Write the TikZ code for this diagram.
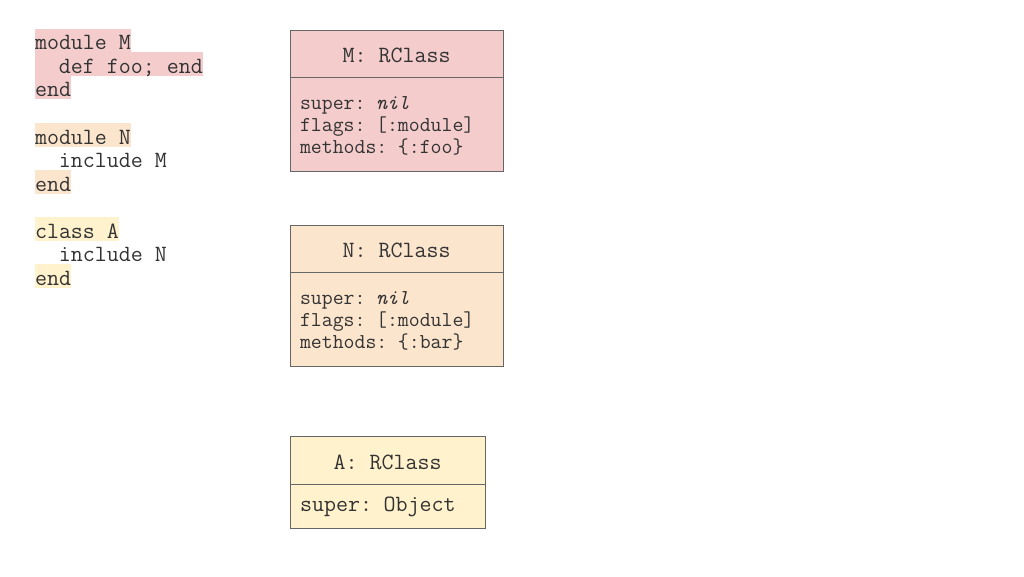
\documentclass[tikz,border=0pt]{standalone}
\usepackage{fontspec}
\usetikzlibrary{positioning}
\definecolor{mpink}{HTML}{F4CCCC}
\definecolor{npeach}{HTML}{FCE5CD}
\definecolor{ayellow}{HTML}{FFF2CC}
\definecolor{edgegray}{HTML}{666666}
\definecolor{ink}{HTML}{333333}
\begin{document}
\begin{tikzpicture}[x=1pt, y=-1pt,
  every node/.style={font=\ttfamily\fontsize{23.3}{22}\selectfont, text=ink, outer sep=0pt},
  code/.style={anchor=west, inner sep=0pt, text height=19pt, text depth=1pt, minimum height=23.5pt},
  head/.style={draw=edgegray, line width=1pt, minimum height=47pt, text height=18pt, text depth=0pt},
  body/.style={draw=edgegray, line width=1pt, align=left, inner xsep=10pt, font=\ttfamily\fontsize{21.2}{22}\selectfont,
    execute at begin node=\rule{0pt}{17pt}}]
  \useasboundingbox (0,0) rectangle (1024,576);
  % ruby source
  \node [code, fill=mpink] (m1) at (35,40.5) {module M};
  \node [code, fill=mpink] (m2) at (35,64) {\phantom{xx}def foo; end};
  \node [code, fill=mpink] (m3) at (35,87.5) {end};
  \node [code, fill=npeach] (n1) at (35,135) {module N};
  \node [code] (n2) at (35,158.5) {\phantom{xx}include M};
  \node [code, fill=npeach] (n3) at (35,182) {end};
  \node [code, fill=ayellow] (a1) at (35,229) {class A};
  \node [code] (a2) at (35,252.5) {\phantom{xx}include N};
  \node [code, fill=ayellow] (a3) at (35,276) {end};
  % RClass boxes
  \node [head, fill=mpink, minimum width=213pt] (mhead) at (396.5,53.5) {M: RClass};
  \node [body, fill=mpink, minimum height=94pt, text width=193pt, below=0pt of mhead] (mbody)
    {super: \textit{nil}\\flags: [:module]\\methods: \{:foo\}};
  \node [head, fill=npeach, minimum width=213pt] (nhead) at (396.5,248.5) {N: RClass};
  \node [body, fill=npeach, minimum height=94pt, text width=193pt, below=0pt of nhead] (nbody)
    {super: \textit{nil}\\flags: [:module]\\methods: \{:bar\}};
  \node [head, fill=ayellow, minimum width=195pt, minimum height=48pt] (ahead) at (387.5,460) {A: RClass};
  \node [body, fill=ayellow, minimum height=44pt, text width=175pt, below=0pt of ahead,
    font=\ttfamily\fontsize{23.3}{22}\selectfont] (abody) {super: Object};
\end{tikzpicture}
\end{document}
